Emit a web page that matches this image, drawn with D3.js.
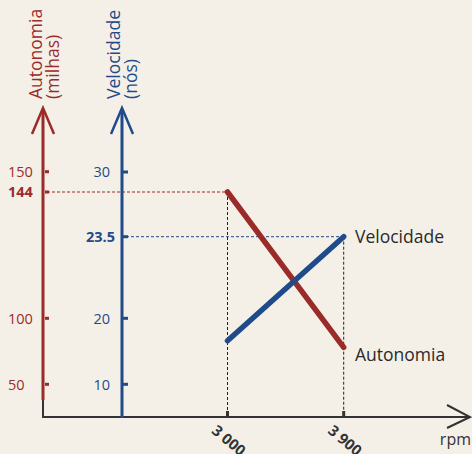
<!DOCTYPE html>
<html>
<head>
<meta charset="utf-8">
<script src="https://cdn.jsdelivr.net/npm/d3@7"></script>
<style>
  body { margin: 0; background: #f4f0e8; }
  svg { display: block; font-family: "Open Sans", "Noto Sans", sans-serif; }
</style>
</head>
<body>
<div id="chart"></div>
<script>
// data
var rpm = [3000, 3900];
var rpmLabels = ["3 000", "3 900"];
var autonomia = [144, 78];     // milhas
var velocidade = [16.6, 23.5]; // nós
var autTicks = [50, 100, 150];
var velTicks = [10, 20, 30];
var autMark = 144;
var velMark = 23.5;

var red = "#9b2b28", blue = "#1f4b8b", ink = "#333";

var svg = d3.select("#chart").append("svg")
  .attr("width", 472).attr("height", 454);

// x scale
var x = d3.scaleLinear().domain([3000, 3900]).range([227.5, 343.7]);
// the vertical scales are not linear in the original, so piecewise
var yA = d3.scaleLinear().domain([50, 100, 144, 150]).range([384.3, 318.3, 192, 171.7]);
var yV = d3.scaleLinear().domain([10, 20, 23.5, 30]).range([384.3, 318.3, 236.7, 172]);

var axA = 43, axV = 122, baseY = 417;

// dashed guides
svg.append("line")
  .attr("x1", axA + 4).attr("x2", x(rpm[0]))
  .attr("y1", yA(autMark)).attr("y2", yA(autMark))
  .attr("stroke", red).attr("stroke-width", 1).attr("stroke-dasharray", "3,2");
svg.append("line")
  .attr("x1", axV + 4).attr("x2", x(rpm[1]))
  .attr("y1", yV(velMark)).attr("y2", yV(velMark))
  .attr("stroke", blue).attr("stroke-width", 1).attr("stroke-dasharray", "3,2");
svg.append("line")
  .attr("x1", x(rpm[0])).attr("x2", x(rpm[0]))
  .attr("y1", yA(autonomia[0])).attr("y2", baseY - 6)
  .attr("stroke", "#222").attr("stroke-width", 1).attr("stroke-dasharray", "3,2");
svg.append("line")
  .attr("x1", x(rpm[1])).attr("x2", x(rpm[1]))
  .attr("y1", yV(velocidade[1])).attr("y2", baseY - 6)
  .attr("stroke", "#222").attr("stroke-width", 1).attr("stroke-dasharray", "3,2");

// x axis (black) with arrow
svg.append("path")
  .attr("d", `M${axA},395 V${baseY} H470`)
  .attr("fill", "none").attr("stroke", ink).attr("stroke-width", 2);
svg.append("path")
  .attr("d", `M447,405 L470,${baseY} L447,428`)
  .attr("fill", "none").attr("stroke", ink).attr("stroke-width", 2);

svg.selectAll(".xtick").data(rpm).enter().append("line")
  .attr("x1", d => x(d)).attr("x2", d => x(d))
  .attr("y1", baseY - 6).attr("y2", baseY)
  .attr("stroke", ink).attr("stroke-width", 3);

// rotated rpm labels (run off the bottom edge, as in the original)
svg.selectAll(".xlab").data(rpm).enter().append("text")
  .attr("transform", d => `translate(${x(d) - 9},${baseY + 6}) rotate(40)`)
  .attr("dy", "0.8em")
  .attr("font-size", 15).attr("font-weight", "bold").attr("fill", ink)
  .text((d, i) => rpmLabels[i]);

svg.append("text")
  .attr("x", 471).attr("y", 445).attr("text-anchor", "end")
  .attr("font-size", 16).attr("fill", ink).text("rpm");

// vertical axes with arrows
function vAxis(ax, bottom, color) {
  svg.append("line")
    .attr("x1", ax).attr("x2", ax).attr("y1", 109).attr("y2", bottom)
    .attr("stroke", color).attr("stroke-width", 3);
  svg.append("path")
    .attr("d", `M${ax - 11},134 L${ax},108 L${ax + 11},134`)
    .attr("fill", "none").attr("stroke", color).attr("stroke-width", 2.5);
}
vAxis(axA, 400, red);
vAxis(axV, baseY + 1, blue);

// tick marks
svg.selectAll(".ta").data(autTicks.concat([autMark])).enter().append("rect")
  .attr("x", axA + 2).attr("y", d => yA(d) - 1.5)
  .attr("width", 4).attr("height", 3).attr("fill", red);
svg.selectAll(".tv").data(velTicks.concat([velMark])).enter().append("rect")
  .attr("x", axV + 1).attr("y", d => yV(d) - 1.5)
  .attr("width", 5).attr("height", 3).attr("fill", blue);

// tick labels
svg.selectAll(".la").data(autTicks).enter().append("text")
  .attr("x", 8).attr("y", d => yA(d)).attr("dy", "0.36em")
  .attr("font-size", 14.5).attr("fill", red).text(d => d);
svg.append("text")
  .attr("x", 8).attr("y", yA(autMark)).attr("dy", "0.36em")
  .attr("font-size", 14.5).attr("font-weight", "bold").attr("fill", red).text(autMark);
svg.selectAll(".lv").data(velTicks).enter().append("text")
  .attr("x", 110).attr("y", d => yV(d)).attr("dy", "0.36em").attr("text-anchor", "end")
  .attr("font-size", 14.5).attr("fill", blue).text(d => d);
svg.append("text")
  .attr("x", 115).attr("y", yV(velMark)).attr("dy", "0.36em").attr("text-anchor", "end")
  .attr("font-size", 14.5).attr("font-weight", "bold").attr("fill", blue).text(velMark);

// axis titles
function vTitle(xb, lines, color) {
  lines.forEach(function(t, i) {
    svg.append("text")
      .attr("transform", `translate(${xb + i * 17},99) rotate(-90)`)
      .attr("font-size", 17.5).attr("fill", color).text(t);
  });
}
vTitle(42, ["Autonomia", "(milhas)"], red);
vTitle(120, ["Velocidade", "(nós)"], blue);

// data lines
var line = d3.line().x((d, i) => x(rpm[i]));
svg.append("path")
  .attr("d", line.y(d => yA(d))(autonomia))
  .attr("fill", "none").attr("stroke", red).attr("stroke-width", 5.5)
  .attr("stroke-linecap", "round");
svg.append("path")
  .attr("d", line.y(d => yV(d))(velocidade))
  .attr("fill", "none").attr("stroke", blue).attr("stroke-width", 5.5)
  .attr("stroke-linecap", "round");

// series labels
svg.append("text").attr("x", 355).attr("y", yV(velocidade[1]) + 6)
  .attr("font-size", 17.5).attr("fill", "#2a2a2a").text("Velocidade");
svg.append("text").attr("x", 355).attr("y", yA(autonomia[1]) + 14)
  .attr("font-size", 17.5).attr("fill", "#2a2a2a").text("Autonomia");
</script>
</body>
</html>
